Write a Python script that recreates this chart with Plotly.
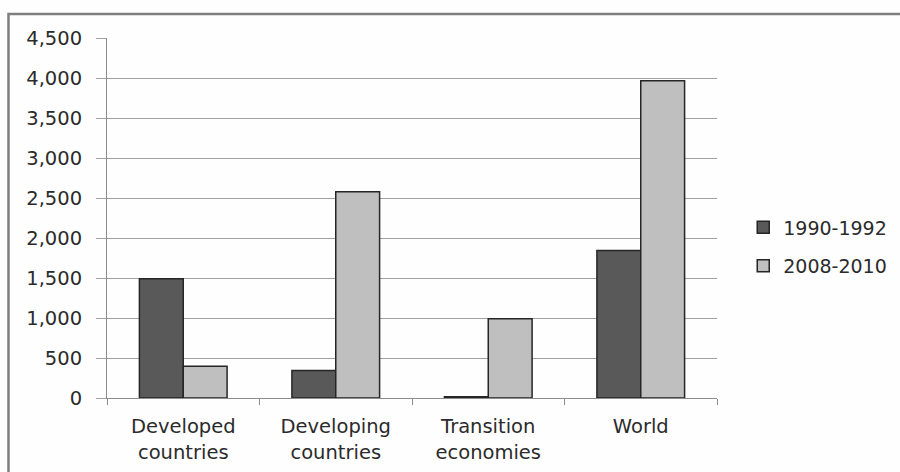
import plotly.graph_objects as go

# Regions and the two reporting periods
categories = ["Developed<br>countries", "Developing<br>countries",
              "Transition<br>economies", "World"]
period_1990_1992 = [1490, 345, 15, 1845]
period_2008_2010 = [398, 2578, 992, 3965]
series_names = ["1990-1992", "2008-2010"]
y_ticks = [0, 500, 1000, 1500, 2000, 2500, 3000, 3500, 4000, 4500]

FONT = "DejaVu Sans"
TEXT = "#2b2b2b"
GRID = "#a0a0a0"
AXIS = "#8c8c8c"

fig = go.Figure()
fig.add_trace(go.Bar(
    x=categories, y=period_1990_1992, name=series_names[0],
    marker=dict(color="#595959", line=dict(color="#262626", width=1.5)),
    legendgroup="a",
))
fig.add_trace(go.Bar(
    x=categories, y=period_2008_2010, name=series_names[1],
    marker=dict(color="#bfbfbf", line=dict(color="#262626", width=1.5)),
    legendgroup="b",
))

fig.update_layout(
    width=900, height=472,
    margin=dict(l=107, r=183, t=38, b=74, autoexpand=False),
    paper_bgcolor="#fefefe", plot_bgcolor="#fefefe",
    barmode="group", bargap=0.425, bargroupgap=0,
    font=dict(family=FONT, size=19, color=TEXT),
    legend=dict(
        x=1.043, y=0.42, xanchor="left", yanchor="middle",
        font=dict(family=FONT, size=19, color=TEXT),
        tracegroupgap=11, itemwidth=30,
        bgcolor="rgba(0,0,0,0)",
    ),
    shapes=[dict(
        type="rect", xref="paper", yref="paper",
        x0=-0.1615, x1=1.31, y0=-0.25, y1=1.067,
        line=dict(color="#7f7f7f", width=2.5), layer="below",
    )],
)

fig.update_yaxes(
    range=[0, 4500], tickvals=y_ticks, tickformat=",",
    showgrid=True, gridcolor=GRID, gridwidth=1,
    showline=True, linecolor=AXIS, linewidth=1,
    ticks="outside", ticklen=10, tickcolor=GRID,
    zeroline=False, ticklabelstandoff=10,
    tickfont=dict(family=FONT, size=19.5, color=TEXT),
)
fig.update_xaxes(
    showline=True, linecolor=AXIS, linewidth=1,
    ticks="outside", ticklen=6, tickcolor=AXIS, tickson="boundaries",
    showgrid=False, ticklabelstandoff=11,
    tickfont=dict(family=FONT, size=19.5, color=TEXT),
)

fig.write_html("out.html")
